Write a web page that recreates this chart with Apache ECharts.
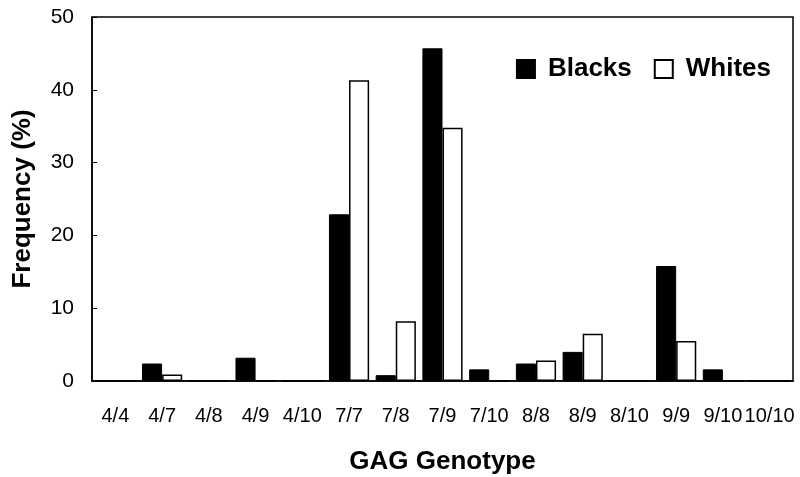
<!DOCTYPE html>
<html>
<head>
<meta charset="utf-8">
<script src="https://cdn.jsdelivr.net/npm/echarts@6/dist/echarts.min.js"></script>
<style>
  html, body { margin: 0; padding: 0; background: #fff; }
  #chart { width: 800px; height: 477px; }
</style>
</head>
<body>
<div id="chart"></div>
<script>
// genotype categories and frequencies (%)
const genotypes = ["4/4", "4/7", "4/8", "4/9", "4/10", "7/7", "7/8", "7/9", "7/10", "8/8", "8/9", "8/10", "9/9", "9/10", "10/10"];
const blacks = [0, 2.4, 0, 3.2, 0, 22.9, 0.8, 45.7, 1.6, 2.4, 4.0, 0, 15.8, 1.6, 0];
const whites = [0, 0.9, 0, 0, 0, 41.3, 8.2, 34.8, 0, 2.8, 6.5, 0, 5.5, 0, 0];
const yTicks = [0, 10, 20, 30, 40, 50];

const FONT = "Liberation Sans, Arial, sans-serif";

const chart = echarts.init(document.getElementById("chart"));

chart.setOption({
  animation: false,
  backgroundColor: "#fff",
  grid: {
    left: 92,
    right: 7,
    top: 17,
    bottom: 96,
    outerBoundsMode: "none",
    show: true,
    borderColor: "#000",
    borderWidth: 1.5,
  },
  legend: {
    right: 24,
    top: 51,
    itemWidth: 18,
    itemHeight: 18,
    itemGap: 22,
    icon: "rect",
    textStyle: {
      fontFamily: FONT,
      fontWeight: "bold",
      fontSize: 26,
      color: "#000",
      padding: [0, 0, 0, 8],
    },
    data: ["Blacks", "Whites"],
  },
  xAxis: {
    type: "category",
    data: genotypes,
    name: "GAG Genotype",
    nameLocation: "middle",
    nameGap: 68,
    nameTextStyle: {
      fontFamily: FONT,
      fontWeight: "bold",
      fontSize: 26,
      color: "#000",
    },
    axisLine: { lineStyle: { color: "#000", width: 1.5 } },
    axisTick: { show: false },
    axisLabel: {
      interval: 0,
      margin: 25,
      fontFamily: FONT,
      fontSize: 20,
      color: "#000",
    },
  },
  yAxis: {
    type: "value",
    min: 0,
    max: 50,
    interval: 10,
    name: "Frequency (%)",
    nameLocation: "middle",
    nameGap: 56,
    nameTextStyle: {
      fontFamily: FONT,
      fontWeight: "bold",
      fontSize: 26,
      color: "#000",
    },
    axisLine: { show: true, lineStyle: { color: "#000", width: 1.5 } },
    axisTick: { show: true, inside: true, length: 5, lineStyle: { color: "#000" } },
    splitLine: { show: false },
    axisLabel: {
      margin: 18,
      fontFamily: FONT,
      fontSize: 21,
      color: "#000",
      formatter: v => (yTicks.includes(v) ? String(v) : ""),
    },
  },
  series: [
    {
      name: "Blacks",
      type: "bar",
      data: blacks,
      barGap: "0%",
      barCategoryGap: "14%",
      itemStyle: { color: "#000", borderColor: "#000", borderWidth: 1 },
    },
    {
      name: "Whites",
      type: "bar",
      data: whites,
      itemStyle: { color: "#fff", borderColor: "#000", borderWidth: 1.5 },
    },
  ],
});
</script>
</body>
</html>
